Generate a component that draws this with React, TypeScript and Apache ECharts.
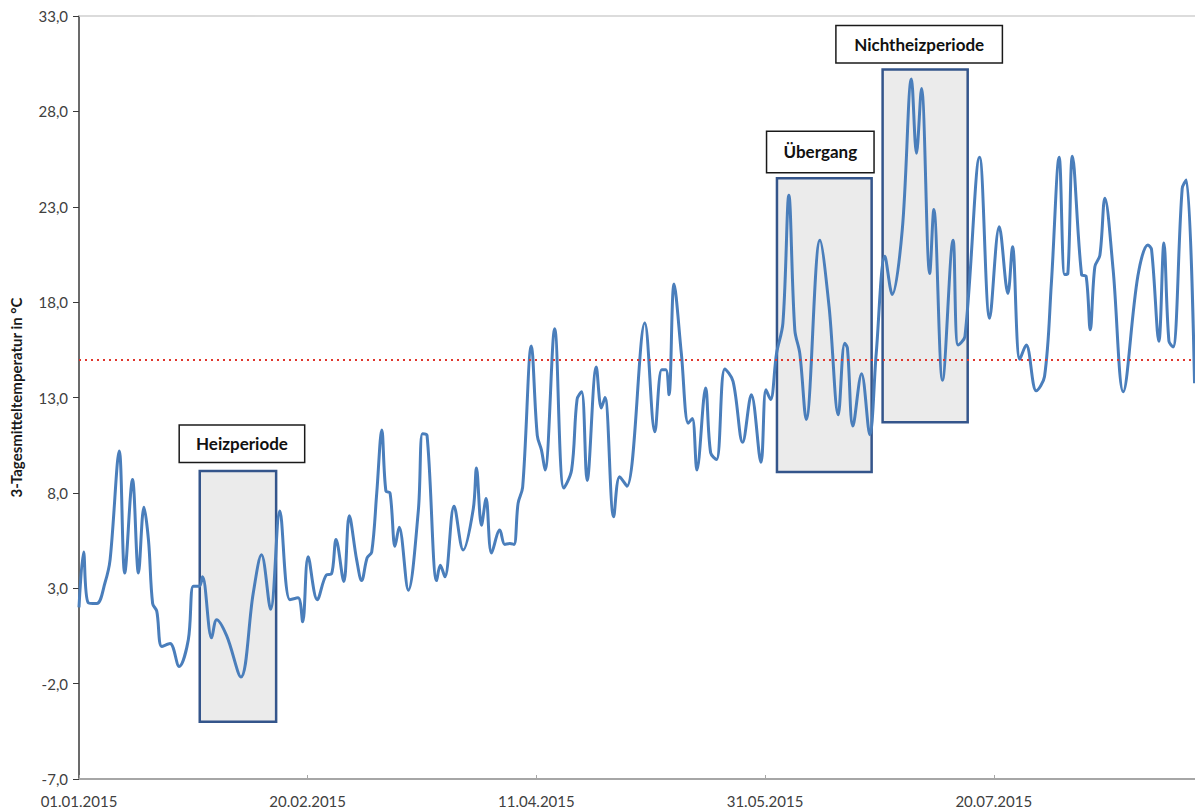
import React, { useEffect, useRef } from 'react';
import * as echarts from 'echarts';

// Day offsets from 01.01.2015 and 3-day mean temperatures (°C)
const days = [
  0, 1, 2, 3.9, 5.7, 6.8, 8.8, 10.0, 11.7, 13.0, 14.2, 15.2, 16.1, 17.0, 18.1, 19.9, 21.9, 23.9,
  25.0, 26.3, 27.0, 29.0, 30.1, 32.3, 35.4, 38.1, 39.9, 41.9, 43.9, 46.1, 47.9, 48.9, 50.1, 52.1,
  54.1, 55.2, 56.2, 57.9, 59.1, 60.7, 61.8, 63.0, 64.0, 65.1, 66.2, 67.1, 68.0, 69.1, 70.0, 72.0,
  74.2, 75.1, 76.1, 78.2, 79.0, 80.0, 82.0, 84.0, 86.2, 86.9, 88.0, 89.0, 90.2, 92.0, 93.1, 94.2,
  95.1, 96.0, 97.0, 98.9, 100.2, 101.1, 101.9, 104.0, 106.0, 107.7, 108.9, 109.9, 111.1, 113.1,
  114.2, 115.0, 116.9, 118.2, 119.8, 123.7, 125.9, 127.4, 128.3, 129.0, 130.1, 131.7, 133.2, 134.1,
  135.1, 137.0, 138.1, 139.4, 141.2, 143.0, 145.1, 147.0, 149.1, 150.2, 151.2, 152.5, 153.9, 155.2,
  156.5, 157.6, 159.0, 162.0, 164.0, 166.0, 167.4, 168.0, 169.2, 171.1, 172.9, 174.3, 176.2, 177.8,
  180.0, 182.0, 183.1, 184.2, 186.0, 186.9, 188.8, 191.1, 192.2, 193.7, 196.9, 199.1, 201.2, 203.1,
  204.1, 205.7, 207.1, 209.3, 211.1, 212.6, 214.3, 215.5, 216.2, 217.2, 219.2, 220.2, 221.1, 222.1,
  223.2, 224.3, 226.1, 228.3, 231.5, 233.7, 234.5, 236.1, 237.2, 238.3, 239.2, 241.2, 242.1, 243.9,
];
const temps = [
  2.0, 4.9, 2.25, 2.2, 3.3, 4.5, 10.2, 3.8, 8.7, 3.8, 7.25, 5.5, 2.2, 1.8, -0.05, 0.1, -1.1, 0.3,
  3.1, 3.1, 3.6, 0.4, 1.35, 0.5, -1.65, 2.75, 4.75, 1.9, 7.05, 2.4, 2.5, 1.25, 4.65, 2.4,
  3.7, 3.75, 5.55, 3.35, 6.8, 4.5, 3.4, 4.6, 4.9, 8.0, 11.3, 8.1, 8.0, 5.2, 6.2, 2.9,
  7.1, 11.1, 11.0, 3.4, 4.2, 3.6, 7.3, 5.0, 7.15, 9.3, 6.3, 7.7, 4.85, 6.05, 5.3, 5.35,
  5.3, 7.45, 8.3, 15.7, 11.0, 10.25, 9.2, 16.6, 8.25, 9.2, 12.9, 13.3, 8.65, 14.6,
  12.45, 13.0, 6.75, 8.85, 8.35, 16.9, 11.2, 14.45, 14.45, 13.15, 18.95, 15.3, 11.65, 11.9,
  9.2, 13.5, 10.1, 9.75, 14.5, 13.85, 10.65, 13.15, 9.6, 13.4, 12.9, 15.3, 16.9, 23.6,
  16.55, 15.3, 11.85, 21.25, 17.75, 12.1, 15.85, 15.6, 11.5, 14.25, 11.05, 15.3, 20.4, 18.4,
  21.8, 29.7, 25.8, 29.2, 19.5, 22.85, 13.9, 21.25, 15.75, 16.2, 25.6, 17.15, 21.95, 18.45,
  20.9, 15.0, 15.75, 13.35, 14.1, 19.0, 25.6, 19.45, 19.5, 25.65, 19.45, 19.35, 16.55, 19.85,
  20.45, 23.45, 19.7, 13.3, 19.35, 21.0, 20.75, 15.95, 21.1, 15.95, 15.65, 23.95, 24.4, 13.75,
];

const xTickLabels = ['01.01.2015', '20.02.2015', '11.04.2015', '31.05.2015', '20.07.2015'];
const yTickLabels = ['-7,0', '-2,0', '3,0', '8,0', '13,0', '18,0', '23,0', '28,0', '33,0'];
const thresholdValue = 15;

const periodNames = ['Heizperiode', 'Übergang', 'Nichtheizperiode'];
const periodStart = [26.4, 152.6, 175.7];
const periodEnd = [43.1, 173.3, 194.3];
const periodHigh = [9.15, 24.5, 30.2];
const periodLow = [-4.0, 9.1, 11.7];

export default function App() {
  const ref = useRef<HTMLDivElement>(null);

  useEffect(() => {
    const chart = echarts.init(ref.current!, null, { renderer: 'svg' });
    const font = 'Lato, "Open Sans", sans-serif';
    const boxes = [
      { w: 127, h: 39, off: 4, dist: 8 },
      { w: 109, h: 43, off: -4, dist: 5 },
      { w: 168, h: 39, off: -6, dist: 6 },
    ];

    const areaData = periodNames.map((name, i) => [
      {
        name,
        xAxis: periodStart[i],
        yAxis: periodHigh[i],
        itemStyle: { color: '#ebebeb', borderColor: '#34558b', borderWidth: 2.5 },
        label: {
          show: true,
          position: 'top',
          distance: boxes[i].dist,
          offset: [boxes[i].off, 0],
          formatter: name,
          backgroundColor: '#ffffff',
          borderColor: '#1a1a1a',
          borderWidth: 1.5,
          width: boxes[i].w - 3,
          height: boxes[i].h - 3,
          lineHeight: boxes[i].h - 3,
          padding: 0,
          fontWeight: 'bold',
          fontSize: 17,
          color: '#111111',
          fontFamily: font,
        },
      },
      { xAxis: periodEnd[i], yAxis: periodLow[i] },
    ]);

    chart.setOption({
      animation: false,
      grid: { left: 79, right: 0, top: 16, bottom: 33, containLabel: false },
      xAxis: [
        {
          type: 'value',
          min: 0,
          max: 244,
          interval: 50,
          position: 'bottom',
          axisLine: { show: true, onZero: false, lineStyle: { color: '#a6a6a6', width: 2 } },
          axisTick: { show: true, inside: true, length: 4, lineStyle: { color: '#a6a6a6' } },
          axisLabel: {
            showMaxLabel: false,
            formatter: (v: number) => xTickLabels[Math.round(v / 50)] ?? '',
            color: '#404040',
            fontSize: 15,
            fontFamily: font,
            margin: 14,
          },
          splitLine: { show: false },
        },
        {
          type: 'value',
          min: 0,
          max: 244,
          position: 'top',
          axisLine: { show: true, onZero: false, lineStyle: { color: '#d0d0d0', width: 1.5 } },
          axisTick: { show: false },
          axisLabel: { show: false },
          splitLine: { show: false },
        },
      ],
      yAxis: [
        {
          type: 'value',
          min: -7,
          max: 33,
          position: 'left',
          axisLine: { show: false, onZero: false },
          axisTick: { show: false },
          axisLabel: { show: false },
          splitLine: { show: false },
        },
        {
          type: 'value',
          min: 0,
          max: 40,
          interval: 5,
          position: 'left',
          name: '3-Tagesmitteltemperatur in °C',
          nameLocation: 'middle',
          nameGap: 56,
          nameTextStyle: { fontWeight: 'bold', fontSize: 15, color: '#1a1a1a', fontFamily: font },
          axisLine: { show: true, onZero: false, lineStyle: { color: '#3a3a3a', width: 1.5 } },
          axisTick: { show: true, length: 6, lineStyle: { color: '#3a3a3a' } },
          axisLabel: {
            formatter: (v: number) => yTickLabels[Math.round(v / 5)] ?? '',
            color: '#404040',
            fontSize: 15,
            fontFamily: font,
            margin: 11,
          },
          splitLine: { show: false },
        },
      ],
      series: [
        {
          type: 'line',
          xAxisIndex: 0,
          yAxisIndex: 0,
          data: days.map((d, i) => [d, temps[i]]),
          smooth: 0.35,
          showSymbol: false,
          symbol: 'none',
          lineStyle: { color: '#4a7ebb', width: 3 },
          z: 3,
          markLine: {
            silent: true,
            symbol: ['none', 'none'],
            label: { show: false },
            lineStyle: { color: '#e0352c', type: [2, 4], width: 2 },
            emphasis: { disabled: true },
            data: [{ yAxis: thresholdValue }],
          },
          markArea: {
            silent: true,
            emphasis: { disabled: true },
            data: areaData,
          },
        },
      ],
    });

    return () => chart.dispose();
  }, []);

  return (
    <div
      ref={ref}
      style={{ position: 'fixed', left: 0, top: 0, width: 1195, height: 812, background: '#fff' }}
    />
  );
}
